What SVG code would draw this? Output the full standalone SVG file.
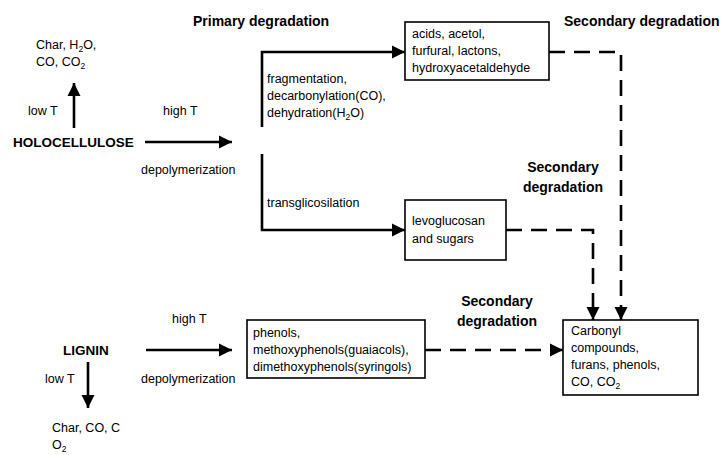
<svg xmlns="http://www.w3.org/2000/svg" width="724" height="455" viewBox="0 0 724 455">
<defs>
<style>
text{font-family:"Liberation Sans",Arial,sans-serif;font-size:12.5px;fill:#000}
.h{font-weight:bold;font-size:14px}
.big{font-weight:bold;font-size:13.5px}
.box{fill:#fff;stroke:#000;stroke-width:1.6}
.solid{fill:none;stroke:#000;stroke-width:2.6}
.dash{fill:none;stroke:#000;stroke-width:2.6;stroke-dasharray:16 9}
</style>
<marker id="ah" markerUnits="userSpaceOnUse" markerWidth="14" markerHeight="14" viewBox="0 0 14 14" refX="13" refY="7" orient="auto">
<path d="M0,0.5 L13,7 L0,13.5 z" fill="#000"/>
</marker>
</defs>
<rect width="724" height="455" fill="#fff"/>

<g id="connectors">
<line class="solid" x1="74" y1="128" x2="74" y2="83" marker-end="url(#ah)"/>
<line class="solid" x1="145" y1="142" x2="232" y2="142" marker-end="url(#ah)"/>
<polyline class="solid" points="262,127 262,52 405,52" marker-end="url(#ah)"/>
<polyline class="solid" points="262,154 262,230 405,230" marker-end="url(#ah)"/>
<polyline class="dash" points="549,52 621,52 621,320" marker-end="url(#ah)"/>
<polyline class="dash" points="506,230 593,230 593,320" marker-end="url(#ah)"/>
<line class="solid" x1="146" y1="350" x2="232" y2="350" marker-end="url(#ah)"/>
<line class="solid" x1="88" y1="362" x2="88" y2="408" marker-end="url(#ah)"/>
<line class="dash" x1="425" y1="350" x2="563" y2="350" marker-end="url(#ah)"/>
</g>

<g id="labels">
<text class="h" x="193" y="26">Primary degradation</text>
<text class="h" x="564" y="26">Secondary degradation</text>
<text x="28" y="115">low T</text>
<text x="163" y="115">high T</text>
<text x="141" y="174">depolymerization</text>
<text x="267" y="83">fragmentation,</text>
<text x="267" y="100">decarbonylation(CO),</text>
<text x="267" y="117">dehydration(H<tspan font-size="8.5" dy="3">2</tspan><tspan dy="-3">O)</tspan></text>
<text x="267" y="207">transglicosilation</text>
<text class="h" x="563" y="172" text-anchor="middle">Secondary</text>
<text class="h" x="563" y="192" text-anchor="middle">degradation</text>
<text class="h" x="497" y="306" text-anchor="middle">Secondary</text>
<text class="h" x="497" y="326" text-anchor="middle">degradation</text>
<text x="172" y="323">high T</text>
<text x="141" y="383">depolymerization</text>
<text x="45" y="383">low T</text>
</g>

<g id="char-top">
<text x="36" y="49">Char, H<tspan font-size="8.5" dy="3">2</tspan><tspan dy="-3">O,</tspan></text>
<text x="36" y="66">CO, CO<tspan font-size="8.5" dy="3">2</tspan></text>
</g>

<g id="holocellulose">
<text class="big" x="13" y="147">HOLOCELLULOSE</text>
</g>

<g id="box-acids">
<rect class="box" x="405" y="22" width="144" height="58"/>
<text x="412" y="38">acids, acetol,</text>
<text x="412" y="55">furfural, lactons,</text>
<text x="412" y="72">hydroxyacetaldehyde</text>
</g>

<g id="box-levoglucosan">
<rect class="box" x="405" y="200" width="101" height="60"/>
<text x="412" y="225">levoglucosan</text>
<text x="412" y="243">and sugars</text>
</g>

<g id="lignin">
<text class="big" x="63" y="355">LIGNIN</text>
</g>

<g id="box-phenols">
<rect class="box" x="247" y="320" width="178" height="58"/>
<text x="253" y="337">phenols,</text>
<text x="253" y="354">methoxyphenols(guaiacols),</text>
<text x="253" y="371">dimethoxyphenols(syringols)</text>
</g>

<g id="box-carbonyl">
<rect class="box" x="563" y="320" width="135" height="75"/>
<text x="571" y="335">Carbonyl</text>
<text x="571" y="352">compounds,</text>
<text x="571" y="369">furans, phenols,</text>
<text x="571" y="386">CO, CO<tspan font-size="8.5" dy="3">2</tspan></text>
</g>

<g id="char-bottom">
<text x="52" y="432">Char, CO, C</text>
<text x="52" y="449">O<tspan font-size="8.5" dy="3">2</tspan></text>
</g>
</svg>
